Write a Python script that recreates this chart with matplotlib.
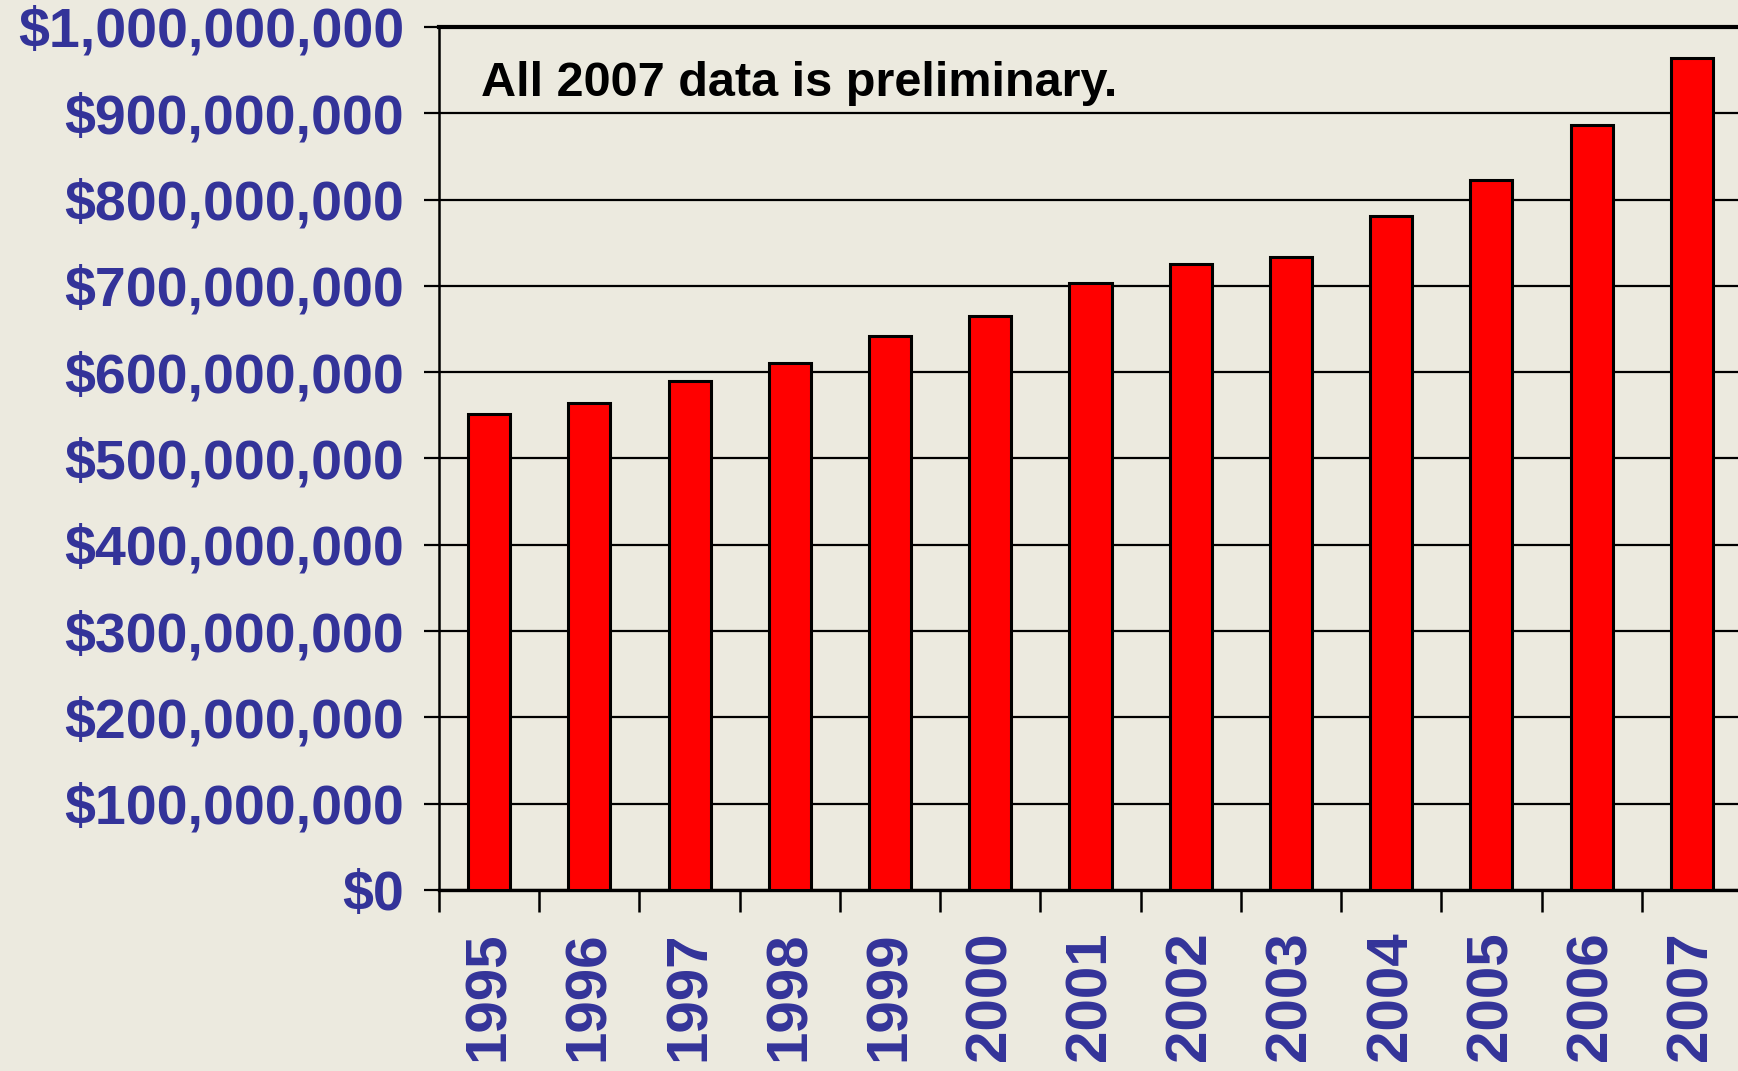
import numpy as np
import matplotlib.pyplot as plt
from matplotlib.ticker import FuncFormatter

years = ['1995', '1996', '1997', '1998', '1999', '2000', '2001',
         '2002', '2003', '2004', '2005', '2006', '2007']
amounts = [552e6, 564e6, 590e6, 611e6, 642e6, 665e6, 703e6,
           725e6, 734e6, 781e6, 823e6, 886e6, 964e6]
yticks = np.arange(0, 1.0e9 + 1, 1e8)

blue = '#333399'
bg = '#ECEADF'

plt.rcParams['font.family'] = ['Liberation Sans', 'DejaVu Sans']

fig = plt.figure(figsize=(17.38, 10.71), dpi=100, facecolor=bg)
ax = fig.add_axes([0.2526, 0.169, 0.7497, 0.8058])
ax.set_facecolor('none')

x = np.arange(len(years))
ax.bar(x, amounts, width=0.42, color='#FF0000', edgecolor='black',
       linewidth=2.2, zorder=3)

ax.set_xlim(-0.5, len(years) - 0.5)
ax.set_ylim(0, 1e9)
ax.set_yticks(yticks)
ax.yaxis.set_major_formatter(FuncFormatter(lambda v, p: '${:,.0f}'.format(v)))
ax.set_xticks(np.arange(len(years) + 1) - 0.5, minor=False)
ax.set_xticklabels([])
ax.set_xticks(x, minor=True)
ax.set_xticklabels(years, minor=True, rotation=90, fontsize=42,
                   fontweight='bold', color=blue)

ax.grid(axis='y', color='black', linewidth=1.6, zorder=1)
ax.tick_params(axis='y', length=11, width=1.6, pad=14, labelsize=40,
               labelcolor=blue)
for lab in ax.get_yticklabels():
    lab.set_fontweight('bold')
ax.tick_params(axis='x', which='major', length=16, width=1.8, direction='out')
ax.tick_params(axis='x', which='minor', length=0, pad=30)

ax.spines['right'].set_visible(False)
ax.spines['top'].set_linewidth(3)
ax.spines['left'].set_linewidth(1.8)
ax.spines['bottom'].set_linewidth(2.4)

ax.text(0.032, 0.935, 'All 2007 data is preliminary.', transform=ax.transAxes,
        fontsize=35, fontweight='bold', color='black', va='center', ha='left')

fig.savefig('out.png', dpi=100, facecolor=bg)
